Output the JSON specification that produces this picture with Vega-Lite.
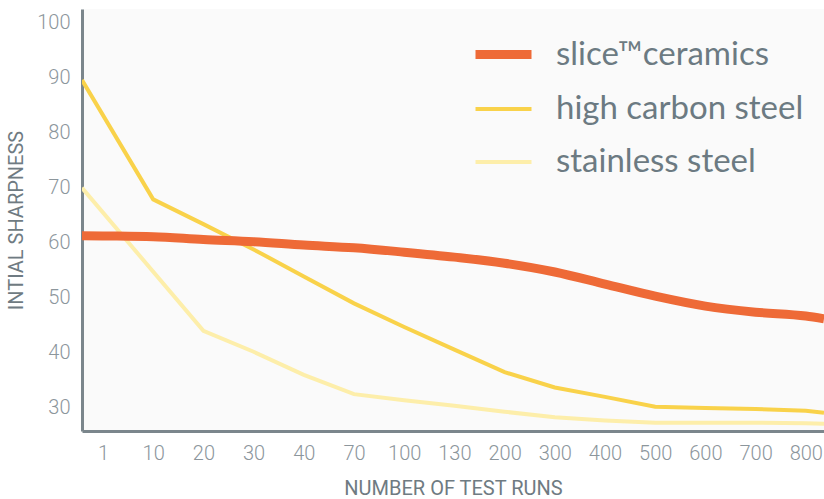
{
  "$schema": "https://vega.github.io/schema/vega-lite/v6.json",
  "autosize": {"type": "none"},
  "width": 742,
  "height": 422,
  "padding": {"left": 82, "top": 9, "right": 0, "bottom": 68},
  "background": "white",
  "config": {
    "view": {"fill": "#fafafa", "stroke": null},
    "axis": {
      "domainColor": "#7b868c",
      "domainWidth": 3,
      "ticks": false,
      "grid": false,
      "labelFont": "Roboto",
      "labelFontWeight": 300,
      "labelFontSize": 20,
      "labelColor": "#8c969c",
      "titleFont": "Roboto",
      "titleFontWeight": 400,
      "titleFontSize": 20,
      "titleColor": "#6f7b82"
    },
    "legend": {
      "orient": "none",
      "legendX": 389,
      "legendY": 13,
      "symbolType": "stroke",
      "symbolSize": 3136,
      "labelFont": "Lato",
      "labelFontSize": 33,
      "labelColor": "#6c7a82",
      "labelOffset": 20,
      "rowPadding": 6,
      "labelLimit": 400
    }
  },
  "data": {
    "values": [
      {"series": "high carbon steel", "runs": 0, "sharpness": 89.6},
      {"series": "high carbon steel", "runs": 10, "sharpness": 67.9},
      {"series": "high carbon steel", "runs": 20, "sharpness": 63.4},
      {"series": "high carbon steel", "runs": 30, "sharpness": 58.8},
      {"series": "high carbon steel", "runs": 40, "sharpness": 53.9},
      {"series": "high carbon steel", "runs": 70, "sharpness": 49.0},
      {"series": "high carbon steel", "runs": 100, "sharpness": 44.7},
      {"series": "high carbon steel", "runs": 130, "sharpness": 40.6},
      {"series": "high carbon steel", "runs": 200, "sharpness": 36.5},
      {"series": "high carbon steel", "runs": 300, "sharpness": 33.7},
      {"series": "high carbon steel", "runs": 400, "sharpness": 32.0},
      {"series": "high carbon steel", "runs": 500, "sharpness": 30.2},
      {"series": "high carbon steel", "runs": 600, "sharpness": 30.0},
      {"series": "high carbon steel", "runs": 700, "sharpness": 29.8},
      {"series": "high carbon steel", "runs": 800, "sharpness": 29.5},
      {"series": "high carbon steel", "runs": 836, "sharpness": 29.1},
      {"series": "stainless steel", "runs": 0, "sharpness": 70.0},
      {"series": "stainless steel", "runs": 20, "sharpness": 44.0},
      {"series": "stainless steel", "runs": 30, "sharpness": 40.2},
      {"series": "stainless steel", "runs": 40, "sharpness": 36.0},
      {"series": "stainless steel", "runs": 70, "sharpness": 32.5},
      {"series": "stainless steel", "runs": 100, "sharpness": 31.4},
      {"series": "stainless steel", "runs": 130, "sharpness": 30.4},
      {"series": "stainless steel", "runs": 200, "sharpness": 29.3},
      {"series": "stainless steel", "runs": 300, "sharpness": 28.3},
      {"series": "stainless steel", "runs": 400, "sharpness": 27.7},
      {"series": "stainless steel", "runs": 500, "sharpness": 27.3},
      {"series": "stainless steel", "runs": 600, "sharpness": 27.3},
      {"series": "stainless steel", "runs": 700, "sharpness": 27.3},
      {"series": "stainless steel", "runs": 800, "sharpness": 27.2},
      {"series": "stainless steel", "runs": 836, "sharpness": 27.1},
      {"series": "slice™ceramics", "runs": 0, "sharpness": 61.3},
      {"series": "slice™ceramics", "runs": 1, "sharpness": 61.25},
      {"series": "slice™ceramics", "runs": 10, "sharpness": 61.1},
      {"series": "slice™ceramics", "runs": 20, "sharpness": 60.6},
      {"series": "slice™ceramics", "runs": 30, "sharpness": 60.2},
      {"series": "slice™ceramics", "runs": 40, "sharpness": 59.6},
      {"series": "slice™ceramics", "runs": 70, "sharpness": 59.1},
      {"series": "slice™ceramics", "runs": 100, "sharpness": 58.3},
      {"series": "slice™ceramics", "runs": 130, "sharpness": 57.4},
      {"series": "slice™ceramics", "runs": 200, "sharpness": 56.3},
      {"series": "slice™ceramics", "runs": 300, "sharpness": 54.7},
      {"series": "slice™ceramics", "runs": 400, "sharpness": 52.5},
      {"series": "slice™ceramics", "runs": 500, "sharpness": 50.3},
      {"series": "slice™ceramics", "runs": 600, "sharpness": 48.5},
      {"series": "slice™ceramics", "runs": 700, "sharpness": 47.4},
      {"series": "slice™ceramics", "runs": 800, "sharpness": 46.7},
      {"series": "slice™ceramics", "runs": 836, "sharpness": 46.2}
    ]
  },
  "encoding": {
    "x": {
      "field": "runs",
      "type": "quantitative",
      "scale": {
        "domain": [0, 1, 10, 20, 30, 40, 70, 100, 130, 200, 300, 400, 500, 600, 700, 800, 836],
        "range": [0, 21, 71.2, 121.4, 171.6, 221.8, 272, 322.2, 372.4, 422.6, 472.8, 523, 573.2, 623.4, 673.6, 723.8, 742],
        "zero": false,
        "nice": false
      },
      "axis": {
        "values": [1, 10, 20, 30, 40, 70, 100, 130, 200, 300, 400, 500, 600, 700, 800],
        "title": "NUMBER OF TEST RUNS",
        "labelPadding": 12,
        "titlePadding": 15
      }
    },
    "y": {
      "field": "sharpness",
      "type": "quantitative",
      "scale": {"domain": [25.8, 102.5], "zero": false, "nice": false},
      "axis": {
        "values": [30, 40, 50, 60, 70, 80, 90, 100],
        "title": "INTIAL SHARPNESS",
        "labelPadding": 12,
        "titlePadding": 10
      }
    },
    "color": {
      "field": "series",
      "type": "nominal",
      "scale": {
        "domain": ["slice™ceramics", "high carbon steel", "stainless steel"],
        "range": ["#ee6a37", "#f9d24a", "#fdeeaa"]
      },
      "legend": {"title": null}
    },
    "strokeWidth": {
      "field": "series",
      "type": "nominal",
      "scale": {
        "type": "ordinal",
        "domain": ["slice™ceramics", "high carbon steel", "stainless steel"],
        "range": [9, 4, 4]
      },
      "legend": {"title": null}
    }
  },
  "layer": [
    {
      "transform": [{"filter": "datum.series !== 'slice™ceramics'"}],
      "mark": {"type": "line", "interpolate": "linear", "clip": true}
    },
    {
      "transform": [{"filter": "datum.series === 'slice™ceramics'"}],
      "mark": {"type": "line", "interpolate": "monotone", "clip": true}
    }
  ]
}
